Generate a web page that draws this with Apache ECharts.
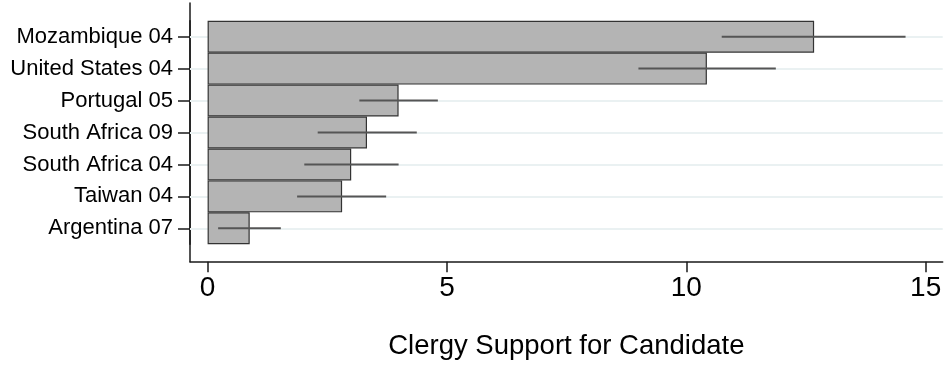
<!DOCTYPE html>
<html>
<head>
<meta charset="utf-8">
<script src="https://cdn.jsdelivr.net/npm/echarts@6/dist/echarts.min.js"></script>
<style>
html,body{margin:0;padding:0;background:#fff;}
#chart{width:946px;height:369px;}
</style>
</head>
<body>
<div id="chart"></div>
<script>
// Data
var categories = ['Mozambique 04','United States 04','Portugal 05','South Africa 09','South Africa 04','Taiwan 04','Argentina 07'];
var support = [12.67, 10.43, 3.99, 3.33, 3.00, 2.81, 0.88];
var ciLow  = [10.74, 9.00, 3.17, 2.30, 2.02, 1.87, 0.22];
var ciHigh = [14.58, 11.87, 4.81, 4.37, 3.99, 3.73, 1.53];
var xTicks = [0, 5, 10, 15];
var xTitle = 'Clergy Support for Candidate';

var FONT = '"Liberation Sans", Arial, sans-serif';
var xMin = -0.3675, xMax = 15.356;

var errData = categories.map(function (c, i) { return [ciLow[i], ciHigh[i], i]; });

var chart = echarts.init(document.getElementById('chart'), null, {renderer: 'canvas'});
chart.setOption({
  animation: false,
  backgroundColor: '#ffffff',
  grid: [
    {left: 190, right: 3.3, top: 3, bottom: 107.3},
    {left: 190, right: 3.3, top: 20.7, bottom: 124.7}
  ],
  xAxis: [
    {
      type: 'value', gridIndex: 0, min: xMin, max: xMax,
      axisLine: {show: true, onZero: false, lineStyle: {color: '#1a1a1a', width: 1.5}},
      axisTick: {show: true, length: 10.5, customValues: xTicks, lineStyle: {color: '#1a1a1a', width: 1.5}},
      axisLabel: {show: true, customValues: xTicks, margin: 13, color: '#000', fontSize: 28, fontFamily: FONT},
      splitLine: {show: false},
      name: xTitle, nameLocation: 'middle', nameGap: 71,
      nameTextStyle: {color: '#000', fontSize: 27.5, fontFamily: FONT}
    },
    {
      type: 'value', gridIndex: 1, min: xMin, max: xMax, show: false
    }
  ],
  yAxis: [
    {
      type: 'value', gridIndex: 0, min: 0, max: 1,
      axisLine: {show: true, onZero: false, lineStyle: {color: '#1a1a1a', width: 1.5}},
      axisTick: {show: false}, axisLabel: {show: false}, splitLine: {show: false}
    },
    {
      type: 'category', gridIndex: 1, data: categories, inverse: true,
      axisLine: {show: true, onZero: false, lineStyle: {color: '#1a1a1a', width: 1.5}},
      axisTick: {show: true, alignWithLabel: true, length: 12, lineStyle: {color: '#1a1a1a', width: 1.5}},
      axisLabel: {show: true, margin: 17, color: '#000', fontSize: 22, fontFamily: FONT},
      splitLine: {show: false}
    }
  ],
  series: [
    {
      type: 'bar', xAxisIndex: 1, yAxisIndex: 1, data: support,
      barCategoryGap: 0, barWidth: '100%', z: 2,
      itemStyle: {color: '#b4b4b4', borderColor: '#333333', borderWidth: 1.2},
      markLine: {
        silent: true, z: 1, symbol: 'none',
        label: {show: false},
        lineStyle: {color: '#eaf1f2', width: 2, type: 'solid'},
        data: categories.map(function (c) { return {yAxis: c}; })
      }
    },
    {
      type: 'custom', xAxisIndex: 1, yAxisIndex: 1, z: 3,
      data: errData,
      encode: {x: [0, 1], y: 2},
      renderItem: function (params, api) {
        var p1 = api.coord([api.value(0), api.value(2)]);
        var p2 = api.coord([api.value(1), api.value(2)]);
        return {
          type: 'line',
          shape: {x1: p1[0], y1: p1[1], x2: p2[0], y2: p2[1]},
          style: {stroke: '#555555', lineWidth: 2}
        };
      }
    }
  ]
});
</script>
</body>
</html>
